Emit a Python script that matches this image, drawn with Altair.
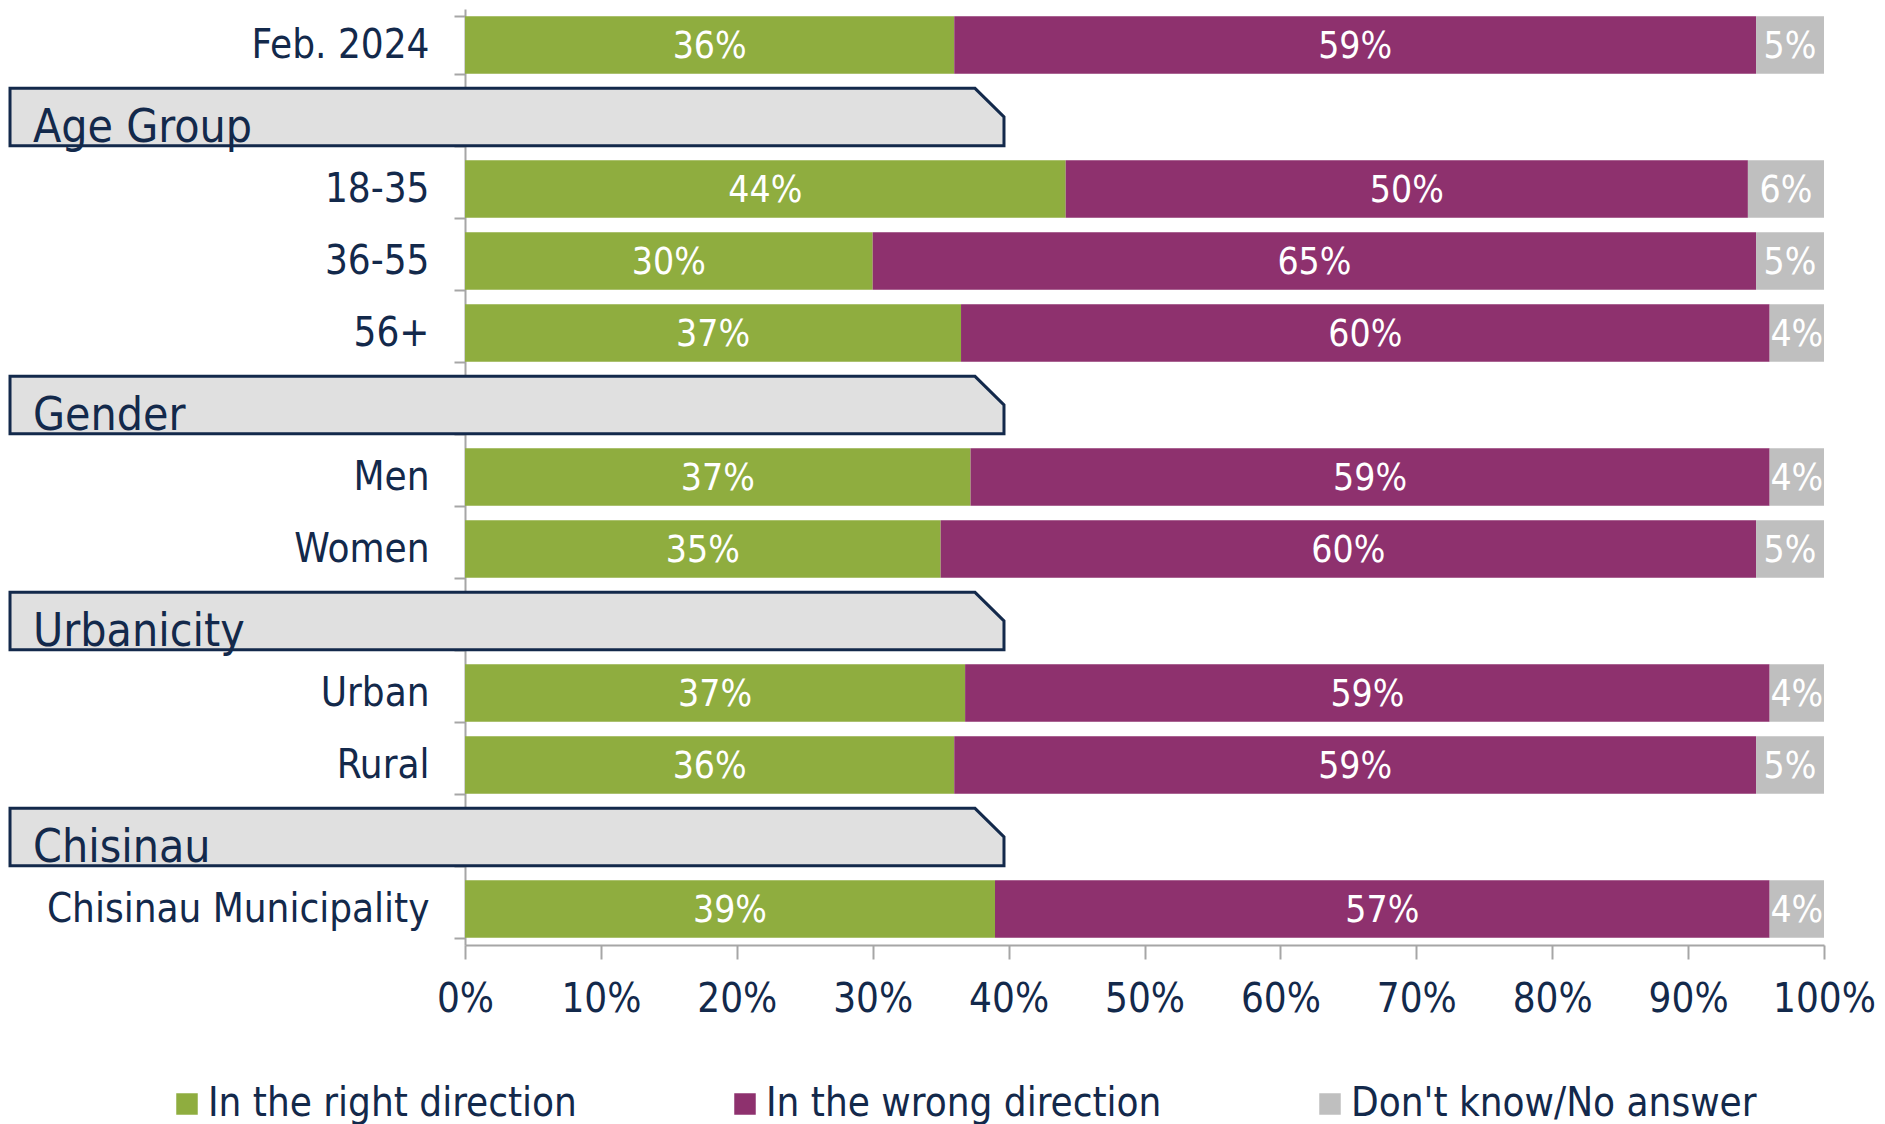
import json
import altair as alt
import pandas as pd

# ---------------- data ----------------
rows = ["Feb. 2024", "Age Group", "18-35", "36-55", "56+", "Gender", "Men", "Women",
        "Urbanicity", "Urban", "Rural", "Chisinau", "Chisinau Municipality"]
headers = ["Age Group", "Gender", "Urbanicity", "Chisinau"]
groups = ["Feb. 2024", "18-35", "36-55", "56+", "Men", "Women", "Urban", "Rural",
          "Chisinau Municipality"]
series = ["In the right direction", "In the wrong direction", "Don't know/No answer"]

right = [36.0, 44.2, 30.0, 36.5, 37.2, 35.0, 36.8, 36.0, 39.0]
wrong = [59.0, 50.2, 65.0, 59.5, 58.8, 60.0, 59.2, 59.0, 57.0]
dk = [5.0, 5.6, 5.0, 4.0, 4.0, 5.0, 4.0, 5.0, 4.0]

right_lbl = [36, 44, 30, 37, 37, 35, 37, 36, 39]
wrong_lbl = [59, 50, 65, 60, 59, 60, 59, 59, 57]
dk_lbl = [5, 6, 5, 4, 4, 5, 4, 5, 4]

x_ticks = [0, 10, 20, 30, 40, 50, 60, 70, 80, 90, 100]

# ---------------- style ----------------
FONT = "DejaVu Sans Condensed"
NAVY = "#13294b"
GRAY = "#a6a6a6"
colors = ["#8fad3f", "#8e316e", "#bfbfbf"]

W, H = 1359, 936

records = []
for i, g in enumerate(groups):
    for k, (vals, lbls) in enumerate([(right, right_lbl), (wrong, wrong_lbl), (dk, dk_lbl)]):
        records.append({"row": g, "series": series[k], "order": k,
                        "value": vals[i], "label": f"{lbls[i]}%"})
df = pd.DataFrame(records)
hdf = pd.DataFrame({"row": headers})

y_scale = alt.Scale(domain=rows, paddingInner=0.204, paddingOuter=0.102)
x_scale = alt.Scale(domain=[0, 100], nice=False)

hdr_json = json.dumps(headers).replace('"', "'")

y_axis = alt.Axis(labelFont=FONT, labelFontSize=40, labelColor=NAVY,
                  labelPadding=25, tickSize=11, tickColor=GRAY, tickWidth=2,
                  domainColor=GRAY, domainWidth=2, tickBand="extent",
                  labelLimit=800, title=None,
                  labelExpr=f"indexof({hdr_json}, datum.value) >= 0 ? '' : datum.value")
x_axis = alt.Axis(values=x_ticks, labelExpr="datum.value + '%'", labelFont=FONT,
                  labelFontSize=40, labelColor=NAVY, tickSize=14, tickColor=GRAY,
                  tickWidth=2, domainColor=GRAY, domainWidth=2, labelPadding=20,
                  grid=False, labelFlush=False, labelOverlap=False, title=None)

Y = alt.Y("row:N", scale=y_scale, axis=y_axis, title=None)

bars = alt.Chart(df).mark_bar().encode(
    y=Y,
    x=alt.X("value:Q", stack="zero", scale=x_scale, axis=x_axis, title=None),
    color=alt.Color("series:N", scale=alt.Scale(domain=series, range=colors),
                    legend=alt.Legend(title=None, orient="none", legendX=-298, legendY=1075,
                                      direction="horizontal", labelFont=FONT, labelFontSize=40,
                                      labelColor=NAVY, symbolType="square", symbolSize=462,
                                      symbolStrokeWidth=0, symbolOpacity=1, labelOffset=1,
                                      columnPadding=148, padding=0, labelLimit=1000)),
    order=alt.Order("order:Q"),
)

labels = alt.Chart(df).transform_stack(
    stack="value", groupby=["row"], sort=[alt.SortField("order")], as_=["x0", "x1"]
).transform_calculate(
    mid="(datum.x0 + datum.x1) / 2"
).mark_text(font=FONT, fontSize=37, color="white", align="center", baseline="middle",
            dy=2).encode(
    y=Y,
    x=alt.X("mid:Q", scale=x_scale, axis=x_axis, title=None),
    text="label:N",
)

# header boxes (chamfered top-right corner), drawn as a custom symbol
box_left, box_right, chamfer, box_h = 10 - 465, 1004 - 465, 29, 57.3
unit = box_h / 2
half_w = (box_right - box_left) / 2 / unit
cx = (box_left + box_right) / 2
cut = chamfer / unit
path = (f"M {-half_w:.3f} -1 L {half_w - cut:.3f} -1 L {half_w:.3f} 0 "
        f"L {half_w:.3f} 1 L {-half_w:.3f} 1 Z")

boxes = alt.Chart(hdf).mark_point(
    shape=path, size=box_h * box_h, filled=True, fill="#e0e0e0", stroke=NAVY,
    strokeWidth=3, opacity=1, fillOpacity=1, strokeOpacity=1
).encode(
    y=Y,
    x=alt.value(cx),
)

htext = alt.Chart(hdf).mark_text(
    font=FONT, fontSize=46, color=NAVY, align="left", baseline="alphabetic", dy=25
).encode(
    y=Y,
    x=alt.value(33 - 465),
    text="row:N",
)

chart = alt.layer(bars, labels, boxes, htext).properties(
    width=W, height=H,
    padding={"left": 457, "top": 1, "right": 53, "bottom": 190},
    autosize=alt.AutoSizeParams(type="none"),
    background="white",
).configure_view(strokeWidth=0)

chart.save("out.html", embed_options={"renderer": "svg", "actions": False})
